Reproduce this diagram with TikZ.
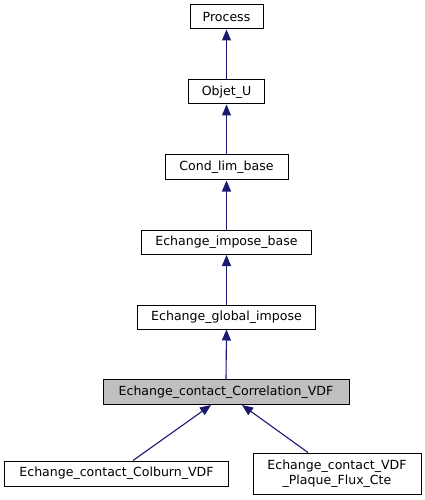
\documentclass[tikz,border=0pt]{standalone}
\usepackage{fontspec}
\setmainfont{DejaVu Sans}
\usetikzlibrary{arrows.meta,calc}
\definecolor{edgeblue}{HTML}{191970}
\definecolor{boxgray}{HTML}{BFBFBF}
\begin{document}
\begin{tikzpicture}[x=1bp,y=1bp,
  cls/.style={draw=black, line width=1bp, fill=white, inner xsep=0pt, inner ysep=0pt,
    minimum height=24bp, align=center, font=\fontsize{12.6}{15}\selectfont},
  cur/.style={cls, fill=boxgray},
  edge/.style={draw=edgeblue, line width=1.1bp, -{Triangle[length=11bp,width=9bp]}}]
\useasboundingbox (0,0) rectangle (424,-500);
\node[cls, minimum width=73bp] (process) at (226.5,-17) {Process};
\node[cls, minimum width=76bp] (objet) at (226.5,-92) {Objet\_U};
\node[cls, minimum width=123bp, minimum height=25bp] (cond) at (226.5,-167.5) {Cond\_lim\_base};
\node[cls, minimum width=170bp] (impose) at (226.5,-242.5) {Echange\_impose\_base};
\node[cls, minimum width=178bp] (global) at (226.5,-317) {Echange\_global\_impose};
\node[cur, minimum width=246bp, minimum height=25bp] (corr) at (226,-392) {Echange\_contact\_Correlation\_VDF};
\node[cls, minimum width=223bp, minimum height=25bp] (colburn) at (116.5,-473.5) {Echange\_contact\_Colburn\_VDF};
\node[cls, minimum width=168bp, minimum height=41bp] (plaque) at (337,-473.5) {Echange\_contact\_VDF\\\_Plaque\_Flux\_Cte};
\draw[edge] (objet.north) -- (process.south);
\draw[edge] (cond.north) -- (objet.south);
\draw[edge] (impose.north) -- (cond.south);
\draw[edge] (global.north) -- (impose.south);
\draw[edge] (corr.north) -- (global.south);
\draw[edge] ($(colburn.north)+(16.5,0)$) -- ($(corr.south)+(-15,0)$);
\draw[edge] ($(plaque.north)+(-29,0)$) -- ($(corr.south)+(16,0)$);
\end{tikzpicture}
\end{document}
